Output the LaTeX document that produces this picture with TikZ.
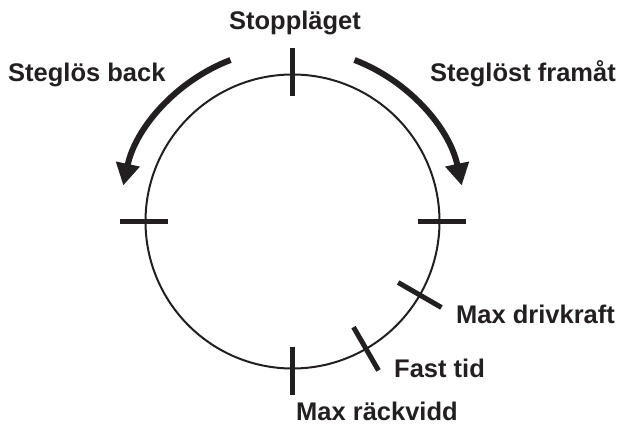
\documentclass[tikz,border=0pt]{standalone}
\usepackage{fontspec}
\setmainfont{Liberation Sans}
\usetikzlibrary{arrows.meta}
\definecolor{ink}{RGB}{35,31,32}
\begin{document}
\begin{tikzpicture}[x=1pt,y=1pt,
  lbl/.style={inner sep=0pt, text=ink, font=\bfseries\fontsize{25.5}{30}\selectfont},
  tickmark/.style={draw=ink, line width=5pt},
  turnarrow/.style={draw=ink, line width=6pt, -{Triangle[length=22pt,width=23pt]}}]
\useasboundingbox (0,0) rectangle (620,426);
\node[circle, draw=ink, line width=2pt, minimum size=294pt, inner sep=0pt] (c) at (292.5,204.5) {};
% ticks
\foreach \a in {90,0,180,270} {
  \draw[tickmark] ([shift={(\a:125)}]c.center) -- ([shift={(\a:173)}]c.center);
}
\foreach \a in {-30,-60} {
  \draw[tickmark] ([shift={(\a:122)}]c.center) -- ([shift={(\a:172)}]c.center);
}
% arrows
\draw[turnarrow] ([shift={(69:173)}]c.center) arc[start angle=69, end angle=12, radius=173];
\draw[turnarrow] ([shift={(111:173)}]c.center) arc[start angle=111, end angle=168, radius=173];
% labels
\node[lbl, anchor=base] (stop) at (295,396) {Stoppläget};
\node[lbl, anchor=base west] (back) at (8,344) {Steglös back};
\node[lbl, anchor=base west] (fram) at (430,344) {Steglöst framåt};
\node[lbl, anchor=base west] (drive) at (456,103) {Max drivkraft};
\node[lbl, anchor=base west] (fast) at (394,49) {Fast tid};
\node[lbl, anchor=base west] (reach) at (296,6) {Max räckvidd};
\end{tikzpicture}
\end{document}
